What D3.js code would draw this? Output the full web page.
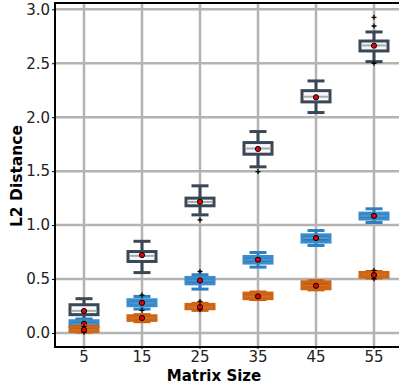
<!DOCTYPE html>
<html><head><meta charset="utf-8">
<script src="https://cdn.jsdelivr.net/npm/d3@7"></script>
<style>body{margin:0;background:#fff}svg{display:block}</style>
</head><body>
<svg id="c" width="399" height="386"></svg>
<script>
const categories = ["5","15","25","35","45","55"];
const yTicks = [0.0,0.5,1.0,1.5,2.0,2.5,3.0];
// each: [whiskerLow, q1, median, q3, whiskerHigh, mean]
const darkStats = [
  [0.12,0.17,0.205,0.262,0.318,0.204],
  [0.56,0.663,0.715,0.755,0.85,0.722],
  [1.095,1.179,1.215,1.25,1.364,1.216],
  [1.54,1.657,1.71,1.765,1.867,1.706],
  [2.043,2.142,2.19,2.246,2.336,2.185],
  [2.515,2.614,2.665,2.706,2.79,2.663]
];
const darkOutliers = [[],[],[1.049],[1.496],[],[2.5,2.845,2.926]];
const blueStats = [
  [0.045,0.06,0.085,0.114,0.13,0.086],
  [0.222,0.253,0.28,0.308,0.339,0.28],
  [0.407,0.456,0.487,0.515,0.54,0.487],
  [0.611,0.648,0.68,0.709,0.746,0.679],
  [0.811,0.843,0.88,0.91,0.95,0.88],
  [1.024,1.056,1.085,1.111,1.151,1.086]
];
const blueOutliers = [[],[0.352,0.21],[0.57],[],[],[]];
const orangeStats = [
  [0.008,0.015,0.03,0.058,0.066,0.03],
  [0.105,0.117,0.14,0.16,0.17,0.139],
  [0.21,0.225,0.24,0.265,0.275,0.24],
  [0.31,0.318,0.34,0.37,0.38,0.339],
  [0.40,0.41,0.44,0.475,0.485,0.438],
  [0.51,0.518,0.54,0.561,0.57,0.537]
];
const orangeOutliers = [[0.006,0.062],[],[0.293,0.215],[],[],[0.58,0.503]];

const series = [
  {stats: darkStats, out: darkOutliers, stroke:"#3a4756", fill:"#f7f7f7", med:"#a3acb5", wh:"#3a4756"},
  {stats: blueStats, out: blueOutliers, stroke:"#3a8ccb", fill:"#2878b8", med:"#4f97cf", wh:"#2f80c0"},
  {stats: orangeStats, out: orangeOutliers, stroke:"#cf6512", fill:"#c25805", med:"#d27028", wh:"#c86008"}
];

const svg = d3.select("#c");
const L = 55, T = 3, B = 347, R = 403;
const x = d3.scaleBand().domain(categories).range([L, R]).paddingInner(0).paddingOuter(0);
const y = d3.scaleLinear().domain([-0.1296, 3.0583]).range([B, T]);
const cx = c => x(c) + x.bandwidth()/2;

const g = svg.append("g");
g.selectAll(".hg").data(yTicks).join("line")
  .attr("x1", L).attr("x2", R).attr("y1", d=>y(d)).attr("y2", d=>y(d))
  .attr("stroke","#b3b3b3").attr("stroke-width",2.5);
g.selectAll(".vg").data(categories).join("line")
  .attr("x1", d=>cx(d)).attr("x2", d=>cx(d)).attr("y1", T).attr("y2", B)
  .attr("stroke","#b3b3b3").attr("stroke-width",2.5);

const BW = 31, CW = 17;
series.forEach(s => {
  const sg = g.append("g");
  s.stats.forEach((st, i) => {
    const c = cx(categories[i]);
    const [lo,q1,md,q3,hi,mean] = st;
    sg.append("line").attr("x1",c).attr("x2",c).attr("y1",y(hi)).attr("y2",y(q3)).attr("stroke",s.wh).attr("stroke-width",3);
    sg.append("line").attr("x1",c).attr("x2",c).attr("y1",y(q1)).attr("y2",y(lo)).attr("stroke",s.wh).attr("stroke-width",3);
    sg.append("line").attr("x1",c-CW/2).attr("x2",c+CW/2).attr("y1",y(hi)).attr("y2",y(hi)).attr("stroke",s.wh).attr("stroke-width",3);
    sg.append("line").attr("x1",c-CW/2).attr("x2",c+CW/2).attr("y1",y(lo)).attr("y2",y(lo)).attr("stroke",s.wh).attr("stroke-width",3);
    sg.append("rect").attr("x",c-BW/2+1.5).attr("width",BW-3)
      .attr("y",y(q3)).attr("height",Math.max(0.5,y(q1)-y(q3)))
      .attr("fill",s.fill).attr("stroke",s.stroke).attr("stroke-width",3);
    sg.append("line").attr("x1",c-BW/2+3).attr("x2",c+BW/2-3).attr("y1",y(md)).attr("y2",y(md)).attr("stroke",s.med).attr("stroke-width",2);
    s.out[i].forEach(o => {
      sg.append("path").attr("d",`M${c-2.5},${y(o)}h5M${c},${y(o)-2.5}v5`).attr("stroke","#000").attr("stroke-width",1.3);
    });
    sg.append("circle").attr("cx",c).attr("cy",y(mean)).attr("r",2.6).attr("fill","#e8000b").attr("stroke","#000").attr("stroke-width",1);
  });
});

svg.append("line").attr("x1",L).attr("x2",L).attr("y1",T-1).attr("y2",B+1).attr("stroke","#000").attr("stroke-width",2);
svg.append("line").attr("x1",L-1).attr("x2",399).attr("y1",T).attr("y2",T).attr("stroke","#000").attr("stroke-width",2);
svg.append("line").attr("x1",L-1).attr("x2",399).attr("y1",B).attr("y2",B).attr("stroke","#000").attr("stroke-width",2);

const ya = svg.append("g").attr("transform",`translate(${L},0)`)
  .call(d3.axisLeft(y).tickValues(yTicks).tickFormat(d3.format(".1f")).tickSize(3).tickPadding(2));
ya.select(".domain").remove();
ya.selectAll("text").attr("font-family","DejaVu Sans").attr("font-size",15).attr("fill","#222");
const xa = svg.append("g").attr("transform",`translate(0,${B})`)
  .call(d3.axisBottom(x).tickSize(2).tickPadding(2));
xa.select(".domain").remove();
xa.selectAll("text").attr("font-family","DejaVu Sans").attr("font-size",15).attr("fill","#222");

svg.append("text").attr("x",214).attr("y",381).attr("text-anchor","middle")
  .attr("font-family","DejaVu Sans").attr("font-weight","bold").attr("font-size",15).text("Matrix Size");
svg.append("text").attr("transform","translate(22,176) rotate(-90)").attr("text-anchor","middle")
  .attr("font-family","DejaVu Sans").attr("font-weight","bold").attr("font-size",15.5).text("L2 Distance");
</script>
</body></html>
